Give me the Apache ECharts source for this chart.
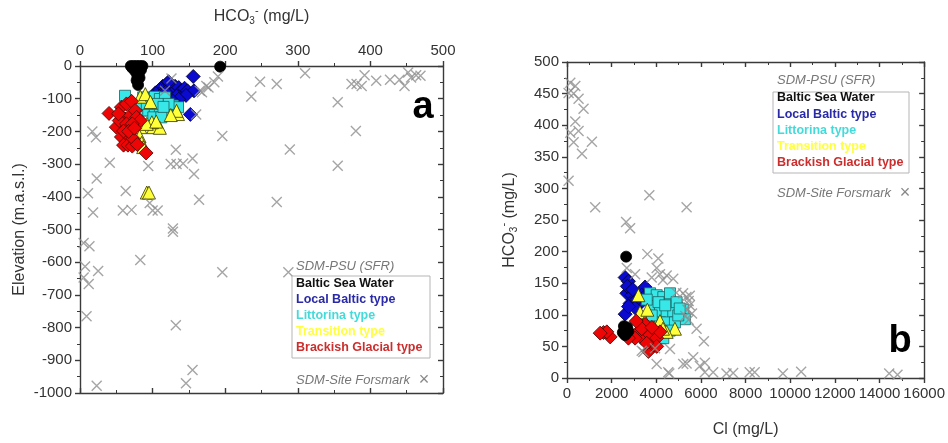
<!DOCTYPE html>
<html>
<head>
<meta charset="utf-8">
<script src="https://cdn.jsdelivr.net/npm/echarts@6/dist/echarts.min.js"></script>
<style>
html,body{margin:0;padding:0;background:#fff;}
#c{width:948px;height:443px;}
</style>
</head>
<body>
<div id="c"></div>
<script>
// ---------- Panel a: HCO3- (mg/L) vs Elevation (m.a.s.l.) ----------
const aBalticSea = [[70,0],[74,0],[78,0],[82,0],[86,0],[72,-6],[80,-8],[84,-12],[76,-16],[81,-22],[79,-30],[82,-36],[78,-44],[80,-58],[193,-2]];
const aLocalBaltic = [[104,-82],[110,-72],[114,-62],[119,-56],[117,-68],[124,-58],[128,-72],[131,-62],[136,-66],[139,-76],[142,-82],[144,-68],[148,-76],[126,-86],[133,-92],[112,-88],[100,-94],[156,-32],[152,-148],[157,-76],[122,-48],[146,-90],[136,-102],[128,-108],[118,-80]];
const aLittorina = [[62,-91],[87,-96],[96,-101],[103,-94],[110,-101],[117,-96],[85,-136],[94,-136],[103,-136],[110,-136],[119,-136],[101,-157],[112,-157],[128,-121],[135,-126],[122,-116],[78,-121],[107,-116],[92,-116],[115,-125]];
const aTransition = [[83,-187],[82,-215],[85,-235],[101,-187],[110,-189],[99,-172],[92,-387],[95,-387],[83,-94],[90,-86],[135,-147],[133,-137],[92,-177],[87,-248],[105,-170],[97,-110],[125,-150]];
const aBrackishGlacial = [[40,-145],[57,-126],[64,-116],[71,-108],[50,-187],[57,-217],[60,-242],[66,-242],[72,-245],[91,-266],[62,-162],[69,-151],[76,-136],[78,-157],[54,-167],[83,-167],[64,-177],[72,-177],[60,-199],[73,-222],[79,-240],[53,-146],[67,-200],[75,-190]];
const aForsmark = [[126,-38],[117,-76],[165,-76],[174,-61],[190,-32],[177,-66],[160,-148],[196,-214],[236,-93],[248,-48],[271,-55],[310,-22],[289,-255],[355,-111],[355,-305],[380,-199],[271,-416],[287,-631],[196,-631],[374,-55],[381,-55],[388,-61],[392,-28],[408,-45],[427,-42],[440,-42],[447,-61],[452,-20],[456,-35],[463,-28],[469,-30],[17,-200],[22,-218],[41,-296],[23,-344],[11,-389],[18,-448],[63,-382],[59,-442],[71,-440],[94,-306],[96,-419],[100,-442],[107,-442],[132,-256],[125,-300],[133,-300],[142,-298],[155,-283],[157,-330],[164,-409],[128,-497],[128,-507],[83,-593],[5,-541],[13,-551],[7,-613],[5,-647],[12,-667],[25,-627],[9,-765],[132,-793],[155,-930],[146,-970],[23,-978],[168,-80],[185,-50]];

// ---------- Panel b: Cl (mg/L) vs HCO3- (mg/L) ----------
const bBalticSea = [[2649,192],[2500,72],[2600,78],[2700,80],[2650,70],[2550,82],[2750,74],[2600,68]];
const bLocalBaltic = [[2604,159],[2753,153],[2679,134],[2902,131],[2827,118],[3273,118],[3497,144],[3125,124],[2604,101],[3349,131],[3050,111],[3420,127],[2753,113],[2700,145],[2950,140]];
const bLittorina = [[3720,134],[4018,131],[4315,128],[4613,118],[4910,116],[5207,108],[5282,93],[3869,114],[4166,104],[4465,101],[4760,104],[3869,86],[4166,88],[4465,88],[4835,88],[4166,63],[4315,63],[3572,124],[4613,134],[4910,120],[4985,99],[3795,99],[4100,120],[4400,115],[5050,110],[4600,75]];
const bTransition = [[4166,90],[3273,104],[3497,90],[4835,78],[4465,73],[3199,131],[3900,80],[4300,78],[3600,108]];
const bBrackishGlacial = [[1634,72],[1934,65],[1784,73],[1486,71],[2902,68],[3199,73],[3497,85],[3349,63],[3720,68],[3646,42],[3869,52],[4018,63],[4166,73],[3050,63],[2753,63],[4018,50],[3571,55],[3349,78],[3100,90],[3800,80]];
const bForsmark = [[147,467],[372,462],[71,451],[297,450],[518,442],[741,426],[371,406],[518,391],[147,388],[297,373],[1116,374],[670,355],[71,312],[3688,289],[1264,270],[5358,270],[2648,247],[2827,237],[3600,196],[4090,189],[2679,174],[4018,174],[3050,164],[3795,159],[4166,164],[4465,162],[4760,157],[5200,134],[5350,128],[5450,122],[5500,115],[5400,108],[5600,102],[5300,98],[5450,92],[5500,130],[5805,78],[6131,58],[3349,43],[4018,22],[4537,9],[5207,22],[5358,23],[5654,33],[5953,19],[6176,24],[6176,9],[6547,9],[7145,7],[7443,8],[8185,9],[8408,9],[9672,7],[10490,10],[14434,7],[14806,5],[3422,41],[3943,47],[4583,7],[4613,46],[4900,135],[4300,155]];

const legendTitle = 'SDM-PSU (SFR)';
const legendNames = ['Baltic Sea Water','Local Baltic type','Littorina type','Transition type','Brackish Glacial type'];
const siteName = 'SDM-Site Forsmark';

const groupStyles = [
  {symbol:'circle', size:11, color:'#000000', border:'#000000', text:'#111111', z:8},
  {symbol:'diamond', size:14, color:'#0b0bd0', border:'#00002a', text:'#2a2aa8', z:3},
  {symbol:'rect', size:11, color:'#38e8e8', border:'#1d5f5f', text:'#45dada', z:4},
  {symbol:'triangle', size:13, color:'#ffff3a', border:'#333300', text:'#ffff40', z:5},
  {symbol:'diamond', size:14, color:'#ee0606', border:'#4a0000', text:'#cc2e2e', z:6}
];
const xPath = 'path://M0,0L10,10M10,0L0,10';

function groupSeries(datasets, xi, yi){
  const out = [];
  datasets.forEach((d,i)=>{
    const s = groupStyles[i];
    out.push({type:'scatter', name:legendNames[i], xAxisIndex:xi, yAxisIndex:yi, data:d,
      symbol:s.symbol, symbolSize:s.size, z:s.z,
      itemStyle:{color:s.color, borderColor:s.border, borderWidth:0.8, opacity:1}});
  });
  return out;
}
function xSeries(d, xi, yi){
  return {type:'scatter', name:siteName, xAxisIndex:xi, yAxisIndex:yi, data:d,
    symbol:xPath, symbolSize:10, z:10,
    itemStyle:{color:'rgba(0,0,0,0)', borderColor:'#8f8f8f', borderWidth:1.4}};
}

const axisLineStyle = {color:'#3a3a3a', width:1.4};
const labelStyle = {color:'#333', fontSize:15, fontFamily:'Liberation Sans, Arial, sans-serif'};
const nameStyle = {color:'#333', fontSize:16, fontFamily:'Liberation Sans, Arial, sans-serif',
  rich:{sub:{fontSize:10, padding:[10,0,0,0], color:'#333'}, sup:{fontSize:11, padding:[0,0,12,0], color:'#333'}}};

function mainAxis(opts){
  return Object.assign({type:'value', splitLine:{show:false},
    axisLine:{show:true, onZero:false, lineStyle:axisLineStyle},
    axisTick:{show:true, length:5, lineStyle:axisLineStyle},
    minorTick:{show:true, splitNumber:2, length:3, lineStyle:{color:'#3a3a3a', width:1}},
    axisLabel:Object.assign({margin:8, showMinLabel:true, showMaxLabel:true, formatter:(v)=>String(v)}, labelStyle),
    nameTextStyle:nameStyle}, opts);
}
function oppAxis(opts){
  return Object.assign({type:'value', splitLine:{show:false},
    axisLine:{show:true, onZero:false, lineStyle:axisLineStyle},
    axisTick:{show:true, inside:true, length:5, lineStyle:axisLineStyle},
    minorTick:{show:true, splitNumber:2, length:3, lineStyle:{color:'#3a3a3a', width:1}},
    axisLabel:{show:false}}, opts);
}

const xAxes = [
  mainAxis({gridIndex:0, position:'top', min:0, max:500, interval:100, name:'HCO{sub|3}{sup|-} (mg/L)', nameLocation:'middle', nameGap:38}),
  oppAxis({gridIndex:0, position:'bottom', min:0, max:500, interval:100}),
  mainAxis({gridIndex:1, position:'bottom', min:0, max:16000, interval:2000, name:'Cl (mg/L)', nameLocation:'middle', nameGap:44}),
  oppAxis({gridIndex:1, position:'top', min:0, max:16000, interval:2000})
];
const yAxes = [
  mainAxis({gridIndex:0, position:'left', min:-1000, max:0, interval:100, name:'Elevation (m.a.s.l.)', nameLocation:'middle', nameGap:52}),
  oppAxis({gridIndex:0, position:'right', min:-1000, max:0, interval:100}),
  mainAxis({gridIndex:1, position:'left', min:0, max:500, interval:50, name:'HCO{sub|3}{sup|-} (mg/L)', nameLocation:'middle', nameGap:46}),
  oppAxis({gridIndex:1, position:'right', min:0, max:500, interval:50})
];

function legendGraphic(x, titleY, boxY, boxW, boxH, lineY0, step, siteY, crossX){
  const els = [];
  const ff = 'Liberation Sans, Arial, sans-serif';
  els.push({type:'text', left:x, top:titleY, style:{text:legendTitle, fill:'#777', font:'italic 13px '+ff}});
  els.push({type:'rect', shape:{x:x-4, y:boxY, width:boxW, height:boxH}, style:{fill:'#fff', stroke:'#b5b5b5', lineWidth:1}, z:20});
  legendNames.forEach((n,i)=>{
    els.push({type:'text', x:x, y:lineY0+i*step, z:21, style:{text:n, fill:groupStyles[i].text, font:'bold 12.5px '+ff, textVerticalAlign:'middle'}});
  });
  els.push({type:'text', x:x, y:siteY, z:21, style:{text:siteName, fill:'#777', font:'italic 13px '+ff, textVerticalAlign:'middle'}});
  els.push({type:'text', x:crossX, y:siteY, z:21, style:{text:'×', fill:'#888', font:'18px '+ff, textAlign:'center', textVerticalAlign:'middle'}});
  return els;
}

const graphics = []
  .concat(legendGraphic(296, 260, 276, 138, 82, 284, 16, 380, 424))
  .concat(legendGraphic(777, 74, 92, 136, 81, 98, 16.2, 193, 905))
  .concat([
    {type:'text', x:423, y:108, z:30, style:{text:'a', fill:'#000', font:'bold 38px Liberation Sans, Arial, sans-serif', textAlign:'center', textVerticalAlign:'middle'}},
    {type:'text', x:900, y:342, z:30, style:{text:'b', fill:'#000', font:'bold 38px Liberation Sans, Arial, sans-serif', textAlign:'center', textVerticalAlign:'middle'}}
  ]);

const chart = echarts.init(document.getElementById('c'), null, {renderer:'canvas'});
chart.setOption({
  backgroundColor:'#fff',
  animation:false,
  grid:[
    {left:80, top:63, width:363, height:330},
    {left:567, top:62, width:358, height:327}
  ],
  xAxis:xAxes,
  yAxis:yAxes,
  series:[]
    .concat(groupSeries([aBalticSea,aLocalBaltic,aLittorina,aTransition,aBrackishGlacial],0,0))
    .concat([xSeries(aForsmark,0,0)])
    .concat(groupSeries([bBalticSea,bLocalBaltic,bLittorina,bTransition,bBrackishGlacial],2,2))
    .concat([xSeries(bForsmark,2,2)]),
  graphic:graphics
});
</script>
</body>
</html>
